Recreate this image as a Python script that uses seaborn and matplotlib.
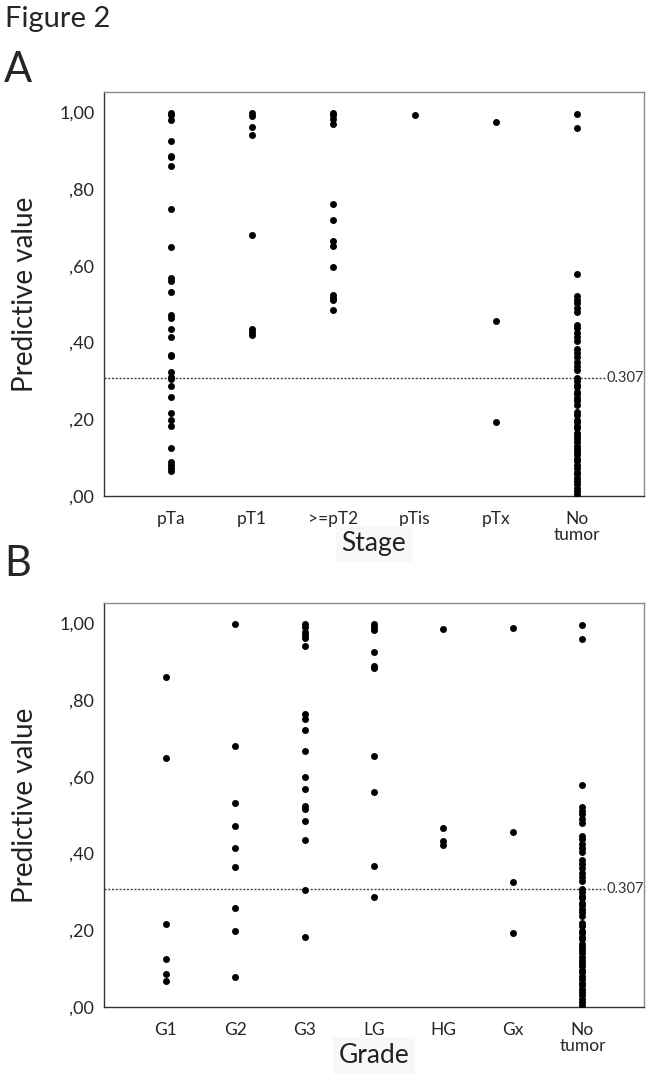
import pandas as pd
import matplotlib.pyplot as plt
import seaborn as sns

# Panel A: predictive value by stage
stage_order = ['pTa', 'pT1', '>=pT2', 'pTis', 'pTx', 'No tumor']
stage_labels = ['pTa', 'pT1', '>=pT2', 'pTis', 'pTx', 'No\ntumor']
pTa = [0.999, 0.992, 0.981, 0.924, 0.886, 0.883, 0.859, 0.749, 0.648, 0.567, 0.561,
       0.531, 0.471, 0.465, 0.435, 0.414, 0.367, 0.365, 0.323, 0.309, 0.306, 0.286,
       0.258, 0.217, 0.198, 0.182, 0.124, 0.089, 0.081, 0.074, 0.066]
pT1 = [0.999, 0.990, 0.962, 0.940, 0.680, 0.434, 0.427, 0.419]
pT2 = [0.999, 0.992, 0.983, 0.970, 0.761, 0.720, 0.665, 0.652, 0.598, 0.524, 0.517,
       0.512, 0.484]
pTis = [0.994]
pTx = [0.975, 0.455, 0.193]
no_tumor = [0.996, 0.960, 0.578, 0.521, 0.512, 0.503, 0.490, 0.479, 0.446, 0.437,
            0.425, 0.414, 0.404, 0.384, 0.372, 0.363, 0.349, 0.340, 0.329, 0.308,
            0.300, 0.290, 0.283, 0.272, 0.265, 0.255, 0.248, 0.238, 0.219, 0.210,
            0.199, 0.192, 0.182, 0.176, 0.165, 0.157, 0.148, 0.141, 0.131, 0.123,
            0.114, 0.106, 0.097, 0.091, 0.080, 0.072, 0.063, 0.057, 0.046, 0.038,
            0.031, 0.021, 0.012, 0.004]

# Panel B: predictive value by grade
grade_order = ['G1', 'G2', 'G3', 'LG', 'HG', 'Gx', 'No tumor']
grade_labels = ['G1', 'G2', 'G3', 'LG', 'HG', 'Gx', 'No\ntumor']
G1 = [0.860, 0.648, 0.217, 0.125, 0.087, 0.067]
G2 = [0.999, 0.681, 0.532, 0.472, 0.415, 0.366, 0.257, 0.199, 0.078]
G3 = [0.999, 0.991, 0.978, 0.970, 0.961, 0.942, 0.763, 0.751, 0.721, 0.666, 0.599,
      0.568, 0.523, 0.515, 0.484, 0.436, 0.306, 0.182]
LG = [0.998, 0.991, 0.983, 0.925, 0.890, 0.884, 0.653, 0.561, 0.368, 0.286]
HG = [0.985, 0.466, 0.433, 0.421]
Gx = [0.987, 0.455, 0.325, 0.194]

cutoff = 0.307
ytick_vals = [0.0, 0.2, 0.4, 0.6, 0.8, 1.0]
ytick_text = [',00', ',20', ',40', ',60', ',80', '1,00']

stage_groups = [pTa, pT1, pT2, pTis, pTx, no_tumor]
grade_groups = [G1, G2, G3, LG, HG, Gx, no_tumor]

df_stage = pd.DataFrame({
    'group': [g for g, vals in zip(stage_order, stage_groups) for _ in vals],
    'value': [v for vals in stage_groups for v in vals]
})
df_grade = pd.DataFrame({
    'group': [g for g, vals in zip(grade_order, grade_groups) for _ in vals],
    'value': [v for vals in grade_groups for v in vals]
})

sns.set_style('white')
plt.rcParams['font.family'] = ['Lato', 'DejaVu Sans']

fig = plt.figure(figsize=(6.53, 10.81), dpi=100)
ax_a = fig.add_axes([104 / 653, 1 - 496 / 1081, 540 / 653, 404 / 1081])
ax_b = fig.add_axes([104 / 653, 1 - 1007 / 1081, 540 / 653, 404 / 1081])


def draw_panel(ax, df, order, labels, xlabel, pad, xlabel_y):
    sns.stripplot(data=df, x='group', y='value', order=order, jitter=False,
                  color='black', size=5, ax=ax)
    ax.set_xlim(-pad, len(order) - 1 + pad)
    ax.set_ylim(0, 1.053)
    ax.set_yticks(ytick_vals)
    ax.set_yticklabels(ytick_text, fontsize=13)
    ax.set_xticks(range(len(order)))
    ax.set_xticklabels(labels, fontsize=12.5, linespacing=0.95)
    ax.tick_params(axis='y', direction='out', length=5, width=1, color='#333333', pad=2)
    ax.tick_params(axis='x', direction='out', length=7, width=1, color='#333333', pad=4)
    ax.set_ylabel('Predictive value', fontsize=20, color='#222222')
    ax.yaxis.set_label_coords(-0.122, 0.5)
    ax.set_xlabel(xlabel, fontsize=19, color='#222222',
                  bbox=dict(facecolor='#f8f8f8', edgecolor='none', pad=4))
    ax.xaxis.label.set_va('center')
    ax.xaxis.set_label_coords(0.5, xlabel_y)
    for side in ['left', 'bottom']:
        ax.spines[side].set_color('#333333')
    for side in ['top', 'right']:
        ax.spines[side].set_color('#8c8c8c')
    for side in ax.spines:
        ax.spines[side].set_visible(True)
        ax.spines[side].set_linewidth(1)
    # cutoff line with label
    ax.axhline(cutoff, xmin=0, xmax=0.928, color='#444444', linestyle=(0, (1.5, 1.2)),
               linewidth=1, zorder=0)
    ax.text(0.93, cutoff, '0.307', transform=ax.get_yaxis_transform(),
            fontsize=10.5, va='center', ha='left', color='#333333')


draw_panel(ax_a, df_stage, stage_order, stage_labels, 'Stage', 0.825, -0.118)
draw_panel(ax_b, df_grade, grade_order, grade_labels, 'Grade', 0.885, -0.12)

fig.text(5 / 653, 1 - 19 / 1081, 'Figure 2', fontsize=21, va='center', ha='left')
fig.text(4 / 653, 1 - 70 / 1081, 'A', fontsize=30, va='center', ha='left')
fig.text(4 / 653, 1 - 564 / 1081, 'B', fontsize=30, va='center', ha='left')

plt.savefig('out.png', dpi=100)
